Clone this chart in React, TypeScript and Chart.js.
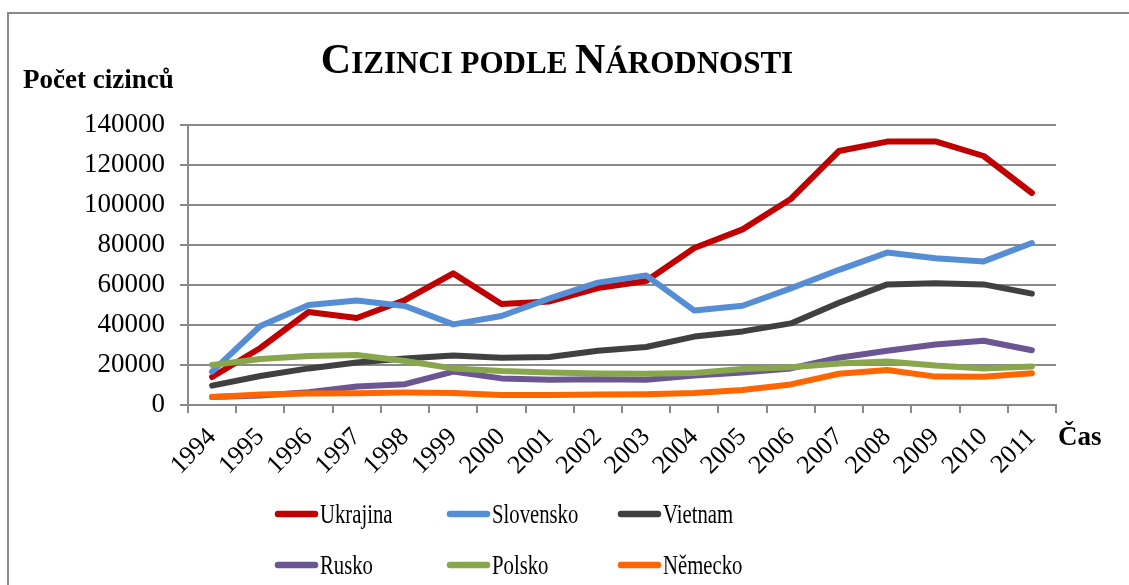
import React, { useEffect, useRef } from "react";
import { Chart, registerables } from "chart.js";

Chart.register(...registerables);

const years = ["1994","1995","1996","1997","1998","1999","2000","2001","2002","2003","2004","2005","2006","2007","2008","2009","2010","2011"];
const ukrajina = [14000, 28500, 46500, 43500, 52500, 65800, 50500, 51800, 58500, 62000, 78500, 87800, 103000, 127000, 131700, 131800, 124500, 106000];
const slovensko = [16700, 39500, 50000, 52200, 49500, 40300, 44500, 53300, 61200, 64800, 47200, 49600, 58300, 67600, 76200, 73400, 71800, 81000];
const vietnam = [9700, 14500, 18300, 21200, 23300, 24800, 23600, 24000, 27100, 29000, 34200, 36800, 40800, 51100, 60300, 60900, 60300, 55700];
const rusko = [4000, 4800, 6400, 9300, 10400, 16700, 13300, 12600, 12900, 12600, 14700, 16300, 18300, 23600, 27100, 30200, 32100, 27400];
const polsko = [20000, 23000, 24500, 25000, 22000, 18300, 17000, 16300, 15800, 15600, 16000, 18000, 18900, 20700, 21700, 19700, 18300, 19300];
const nemecko = [4000, 5300, 5800, 5900, 6200, 6000, 5000, 5000, 5300, 5400, 6000, 7500, 10300, 15600, 17500, 14200, 14100, 15900];

const seriesNames = ["Ukrajina", "Slovensko", "Vietnam", "Rusko", "Polsko", "Německo"];
const seriesColors = ["#C00000", "#558ED5", "#404040", "#6B5592", "#88A64C", "#FF6600"];
const seriesValues = [ukrajina, slovensko, vietnam, rusko, polsko, nemecko];

const titleParts: [string, number][] = [["C", 42], ["IZINCI PODLE ", 31], ["N", 42], ["ÁRODNOSTI", 31]];
const yAxisTitle = "Počet cizinců";
const xAxisTitle = "Čas";

const SERIF = "'Liberation Serif', 'Times New Roman', serif";
const GRID = "#8a8a8a";

const extrasPlugin = {
  id: "extras",
  afterDraw(chart: any) {
    const ctx = chart.ctx as CanvasRenderingContext2D;
    ctx.save();
    // outer border
    ctx.strokeStyle = GRID;
    ctx.lineWidth = 2;
    ctx.strokeRect(8, 13, 1200, 700);

    // title with small caps
    ctx.fillStyle = "#000";
    ctx.textBaseline = "alphabetic";
    ctx.textAlign = "left";
    let total = 0;
    const widths: number[] = [];
    for (const [t, s] of titleParts) {
      ctx.font = `bold ${s}px ${SERIF}`;
      const w = ctx.measureText(t).width;
      widths.push(w);
      total += w;
    }
    let x = 557 - total / 2;
    titleParts.forEach(([t, s], i) => {
      ctx.font = `bold ${s}px ${SERIF}`;
      ctx.fillText(t, x, 73);
      x += widths[i];
    });

    // axis titles
    ctx.font = `bold 27px ${SERIF}`;
    ctx.fillText(yAxisTitle, 23, 88);
    ctx.fillText(xAxisTitle, 1058, 445);

    // legend
    const ds = chart.data.datasets;
    const colX = [275, 447, 618];
    const rowY = [514, 565];
    ds.forEach((d: any, i: number) => {
      const cx = colX[i % 3];
      const cy = rowY[Math.floor(i / 3)];
      ctx.strokeStyle = d.borderColor;
      ctx.lineWidth = 6.5;
      ctx.lineCap = "round";
      ctx.beginPath();
      ctx.moveTo(cx + 3, cy);
      ctx.lineTo(cx + 40, cy);
      ctx.stroke();
      ctx.save();
      ctx.translate(cx + 45, cy + 9);
      ctx.scale(0.74, 1);
      ctx.font = `28px ${SERIF}`;
      ctx.fillStyle = "#000";
      ctx.fillText(d.label, 0, 0);
      ctx.restore();
    });
    ctx.restore();
  },
};

export default function App() {
  const ref = useRef<HTMLCanvasElement>(null);
  useEffect(() => {
    if (!ref.current) return;
    const chart = new Chart(ref.current, {
      type: "line",
      data: {
        labels: years,
        datasets: seriesNames.map((name, i) => ({
          label: name,
          data: seriesValues[i],
          borderColor: seriesColors[i],
          backgroundColor: seriesColors[i],
          borderWidth: 6,
          borderCapStyle: "round",
          borderJoinStyle: "round",
          pointRadius: 0,
          tension: 0,
          order: seriesNames.length - i,
        })),
      },
      options: {
        animation: false,
        responsive: false,
        layout: { padding: { left: 0, right: 73, top: 125, bottom: 70 } },
        plugins: {
          legend: { display: false },
          title: { display: false },
          tooltip: { enabled: false },
        },
        scales: {
          x: {
            offset: true,
            afterFit: (s: any) => { s.height = 110; },
            grid: {
              offset: true,
              drawOnChartArea: false,
              drawTicks: true,
              tickLength: 8,
              color: GRID,
              lineWidth: 2,
            },
            border: { display: true, color: GRID, width: 2 },
            ticks: {
              minRotation: 45,
              maxRotation: 45,
              autoSkip: false,
              padding: 9,
              color: "#000",
              font: { family: SERIF, size: 26 },
            },
          },
          y: {
            min: 0,
            max: 140000,
            afterFit: (s: any) => { s.width = 188; },
            grid: {
              drawTicks: true,
              tickLength: 8,
              color: GRID,
              lineWidth: 2,
            },
            border: { display: true, color: GRID, width: 2 },
            ticks: {
              stepSize: 20000,
              padding: 15,
              color: "#000",
              font: { family: SERIF, size: 27 },
              callback: (v: any) => String(v),
            },
          },
        },
      },
      plugins: [extrasPlugin],
    } as any);
    return () => chart.destroy();
  }, []);
  return (
    <div style={{ position: "fixed", left: 0, top: 0, width: 1129, height: 585, background: "#fff" }}>
      <canvas ref={ref} width={1129} height={585} style={{ width: 1129, height: 585, display: "block" }} />
    </div>
  );
}
